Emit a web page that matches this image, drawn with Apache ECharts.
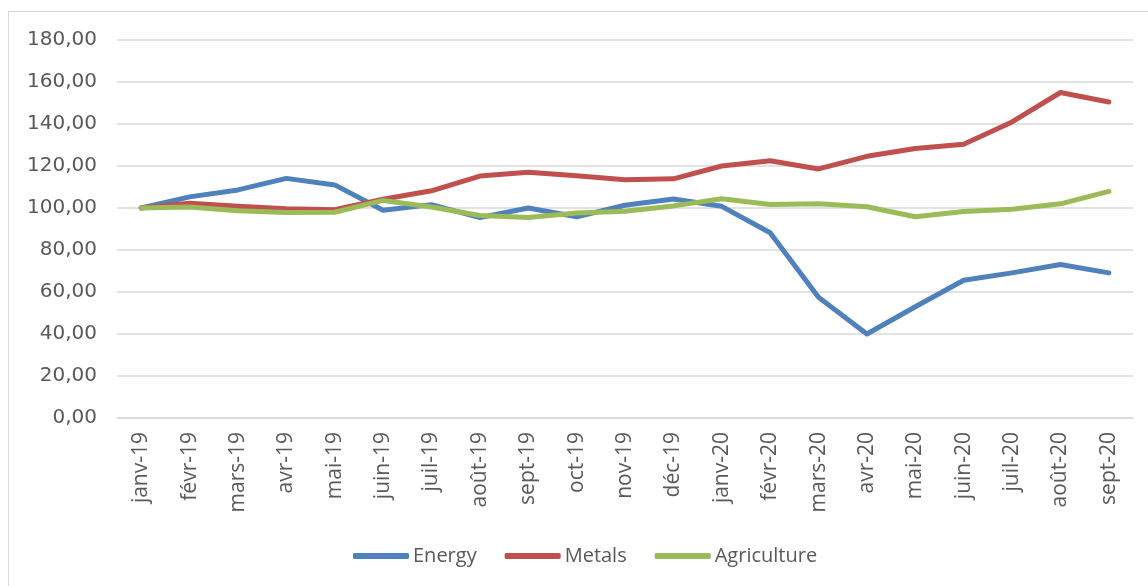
<!DOCTYPE html>
<html>
<head>
<meta charset="utf-8">
<script src="https://cdn.jsdelivr.net/npm/echarts@6/dist/echarts.min.js"></script>
<style>
  html, body { margin: 0; padding: 0; background: #ffffff; }
  #frame {
    position: absolute; left: 8px; top: 11px; width: 1160px; height: 600px;
    border-left: 1.5px solid #d9d9d9; border-top: 1.5px solid #d9d9d9;
    box-sizing: border-box;
  }
  #chart { position: absolute; left: 0; top: 0; width: 1148px; height: 586px; }
</style>
</head>
<body>
<div id="frame"></div>
<div id="chart"></div>
<script>
// Monthly commodity price indices (janv-19 = 100)
const months = ['janv-19', 'févr-19', 'mars-19', 'avr-19', 'mai-19', 'juin-19', 'juil-19', 'août-19',
  'sept-19', 'oct-19', 'nov-19', 'déc-19', 'janv-20', 'févr-20', 'mars-20', 'avr-20', 'mai-20',
  'juin-20', 'juil-20', 'août-20', 'sept-20'];

const energy = [100, 105.3, 108.6, 114.1, 111.0, 98.9, 101.6, 95.4, 100.0, 95.8, 101.3, 104.3,
  100.8, 88.2, 57.5, 40.0, 53.0, 65.6, 69.1, 73.1, 69.1];

const metals = [100, 102.3, 100.8, 99.7, 99.2, 104.2, 108.2, 115.2, 117.0, 115.4, 113.5, 113.9,
  120.0, 122.5, 118.6, 124.6, 128.3, 130.4, 141.0, 155.0, 150.5];

const agriculture = [100, 100.5, 98.7, 97.8, 98.0, 103.6, 100.5, 96.4, 95.5, 97.6, 98.5, 101.0,
  104.4, 101.7, 102.0, 100.6, 95.8, 98.3, 99.4, 102.0, 107.9];

const seriesNames = ['Energy', 'Metals', 'Agriculture'];
const seriesColors = ['#4f81bd', '#c0504d', '#9bbb59'];

const chart = echarts.init(document.getElementById('chart'), null, { renderer: 'canvas' });

const makeLine = (name, data, color) => ({
  name: name,
  type: 'line',
  data: data,
  showSymbol: false,
  symbol: 'none',
  smooth: false,
  color: color,
  lineStyle: { width: 5, color: color, cap: 'round', join: 'round' },
  emphasis: { disabled: true },
  animation: false
});

chart.setOption({
  backgroundColor: 'transparent',
  animation: false,
  grid: {
    left: 117, right: 15, top: 40, bottom: 168,
    containLabel: false, outerBoundsMode: 'none'
  },
  legend: {
    data: seriesNames,
    left: 348, top: 541,
    icon: 'roundRect',
    itemWidth: 56, itemHeight: 6,
    itemGap: 28,
    textStyle: { fontFamily: 'Open Sans', fontSize: 20, color: '#595959', padding: [0, 0, 0, -1] },
    selectedMode: false
  },
  xAxis: {
    type: 'category',
    data: months,
    boundaryGap: true,
    axisLine: { show: true, lineStyle: { color: '#d9d9d9', width: 1.5 } },
    axisTick: { show: false },
    axisLabel: {
      rotate: 90, margin: 14, interval: 0,
      fontFamily: 'Open Sans', fontSize: 21, color: '#595959'
    },
    splitLine: { show: false }
  },
  yAxis: {
    type: 'value',
    min: 0, max: 180, interval: 20,
    axisLine: { show: false },
    axisTick: { show: false },
    axisLabel: {
      margin: 20,
      fontFamily: 'DejaVu Sans', fontSize: 20, color: '#595959',
      formatter: v => v.toFixed(2).replace('.', ',')
    },
    splitLine: { lineStyle: { color: '#d9d9d9', width: 1.5 } }
  },
  series: [
    makeLine(seriesNames[0], energy, seriesColors[0]),
    makeLine(seriesNames[1], metals, seriesColors[1]),
    makeLine(seriesNames[2], agriculture, seriesColors[2])
  ]
});
</script>
</body>
</html>
